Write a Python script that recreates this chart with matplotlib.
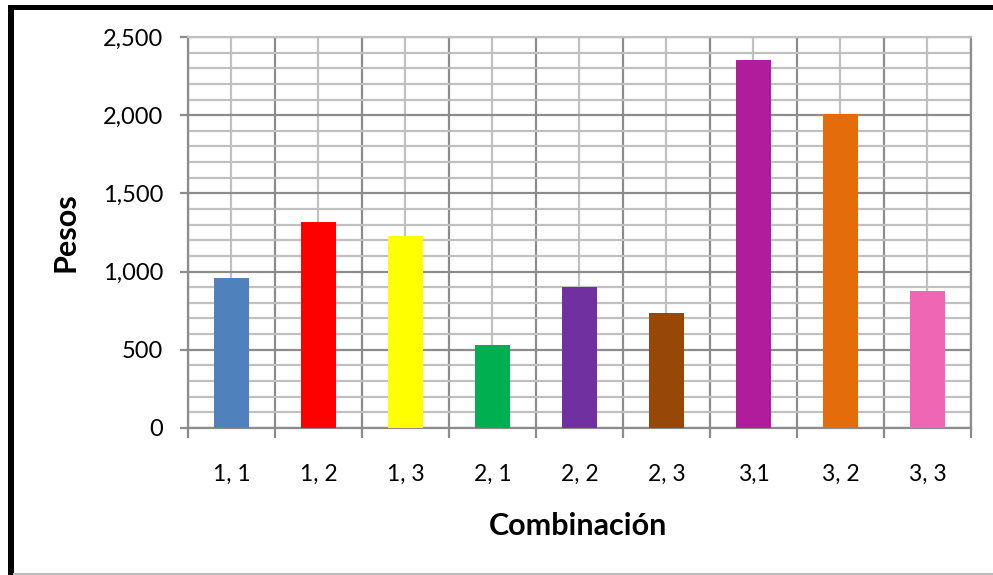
import matplotlib.pyplot as plt
from matplotlib.patches import Rectangle
from matplotlib.lines import Line2D
from matplotlib.ticker import MultipleLocator, FuncFormatter

combinaciones = ["1, 1", "1, 2", "1, 3", "2, 1", "2, 2", "2, 3", "3,1", "3, 2", "3, 3"]
pesos = [959, 1317, 1228, 531, 902, 735, 2353, 2008, 876]
colores = ["#4F81BD", "#FF0000", "#FFFF00", "#00B050", "#7030A0",
           "#974706", "#B01C9B", "#E46C0A", "#EE66B4"]

plt.rcParams["font.family"] = ["Lato", "DejaVu Sans"]

fig = plt.figure(figsize=(9.93, 5.75), dpi=100)
ax = fig.add_axes([0.1893, 0.2557, 0.7885, 0.68])

x = list(range(len(combinaciones)))
ax.bar(x, pesos, width=0.41, color=colores, zorder=3)

ax.set_xlim(-0.5, len(combinaciones) - 0.5)
ax.set_ylim(0, 2500)

# category centres carry labels, category edges carry ticks
ax.set_xticks(x)
ax.set_xticklabels(combinaciones)
ax.set_xticks([i + 0.5 for i in range(-1, len(combinaciones))], minor=True)
ax.yaxis.set_major_locator(MultipleLocator(500))
ax.yaxis.set_minor_locator(MultipleLocator(100))
ax.yaxis.set_major_formatter(FuncFormatter(lambda v, _: f"{int(v):,}"))

dark = "#8C8C8C"
light = "#C0C0C0"
ax.grid(True, axis="x", which="major", color=light, linewidth=1.6, zorder=1)
ax.grid(True, axis="x", which="minor", color=dark, linewidth=1.6, zorder=1)
ax.grid(True, axis="y", which="major", color=dark, linewidth=1.6, zorder=1)
ax.grid(True, axis="y", which="minor", color=light, linewidth=1.6, zorder=1)
ax.set_axisbelow(True)

ax.tick_params(axis="x", which="major", length=0, pad=26, labelsize=16.5)
ax.tick_params(axis="x", which="minor", length=7, width=1.6, color=dark)
ax.tick_params(axis="y", which="major", length=6, width=1.6, color=dark,
               pad=12, labelsize=17)
ax.tick_params(axis="y", which="minor", length=0)

for side in ["left", "bottom", "right"]:
    ax.spines[side].set_color(dark)
    ax.spines[side].set_linewidth(1.6)
ax.spines["top"].set_color(light)
ax.spines["top"].set_linewidth(1.6)

fig.text(0.0655, 0.597, "Pesos", rotation=90, ha="center", va="center",
         fontsize=22, fontweight="bold")
fig.text(0.582, 0.085, "Combinación", ha="center", va="center",
         fontsize=22, fontweight="bold")

# thick frame on top and left, thin grey edge at the bottom
fig.add_artist(Rectangle((0.008, 0.983), 0.992, 0.009, transform=fig.transFigure,
                         color="black", lw=0))
fig.add_artist(Rectangle((0.008, 0.0), 0.006, 0.992, transform=fig.transFigure,
                         color="black", lw=0))
fig.add_artist(Line2D([0.014, 1.0], [0.002, 0.002], transform=fig.transFigure,
                      color="#BBBBBB", lw=1.5))

fig.savefig("out.png", dpi=100)
